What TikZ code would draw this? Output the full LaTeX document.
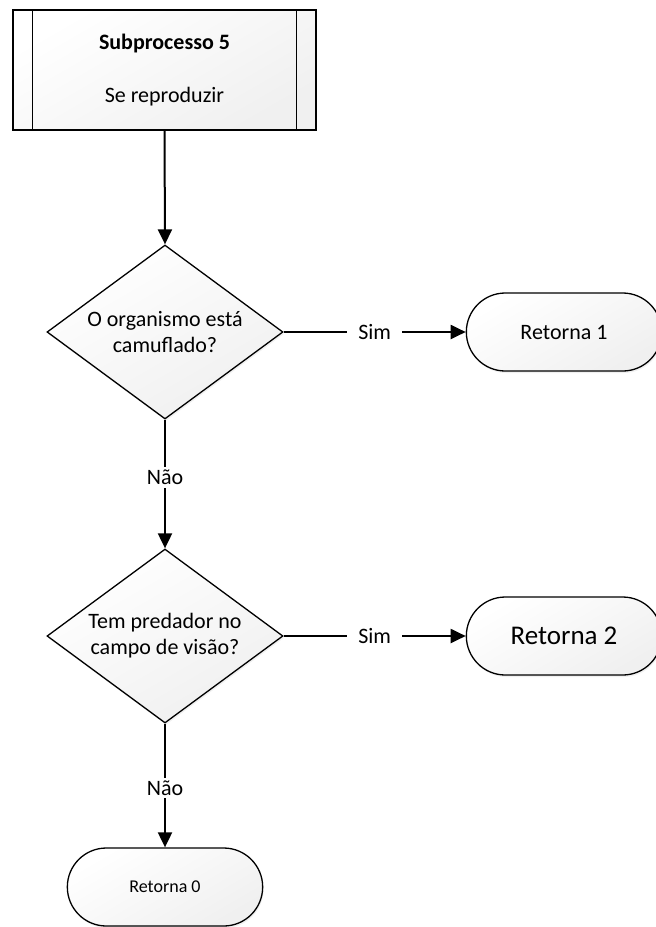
\documentclass[tikz,border=0pt]{standalone}
\usepackage{fontspec}
\setmainfont{Carlito}
\usetikzlibrary{shapes.geometric,shapes.misc,arrows.meta,shadows}
\tikzstyle{blk}=[draw=black,line width=1.3pt,top color=white,bottom color=black!6,shading angle=30]
\tikzstyle{sub}=[blk,rectangle,minimum width=303pt,minimum height=120pt,align=center,font=\fontsize{22}{26}\selectfont]
\tikzstyle{dec}=[blk,diamond,aspect=1.356,inner sep=0pt,minimum width=236pt,minimum height=174pt,align=center,font=\fontsize{22}{26}\selectfont,drop shadow={opacity=.12,shadow xshift=1pt,shadow yshift=-2pt}]
\tikzstyle{term}=[blk,rounded rectangle,minimum width=202pt,minimum height=78pt,drop shadow={opacity=.12,shadow xshift=1pt,shadow yshift=-2pt}]
\tikzstyle{ln}=[line width=2pt,-{Triangle[length=15pt,width=14pt]}]
\tikzstyle{lbl}=[fill=white,inner xsep=11pt,inner ysep=3pt,font=\fontsize{22}{26}\selectfont]

\begin{document}
\begin{tikzpicture}[x=1pt,y=-1pt]
\useasboundingbox (0,0) rectangle (656,927);
\node[sub] (sp) at (164.5,70) {\textbf{Subprocesso 5}\\[27pt]Se reproduzir};
\draw[line width=1.3pt] ([xshift=20pt]sp.north west) -- ([xshift=20pt]sp.south west);
\draw[line width=1.3pt] ([xshift=-20pt]sp.north east) -- ([xshift=-20pt]sp.south east);
\node[dec] (camuf) at (165,332) {O organismo está\\camuflado?};
\node[dec] (pred) at (165,636) {Tem predador no\\campo de visão?};
\node[term,font=\fontsize{22}{26}\selectfont] (ret1) at (564,332) {Retorna 1};
\node[term,font=\fontsize{27}{32}\selectfont] (ret2) at (564,636) {Retorna 2};
\node[term,font=\fontsize{18}{22}\selectfont] (ret0) at (165,887) {Retorna 0};
\draw[ln] (sp.south) -- (camuf.north);
\draw[ln] (camuf.east) -- node[lbl]{Sim} (ret1.west);
\draw[ln] (camuf.south) -- node[lbl,pos=.45]{Não} (pred.north);
\draw[ln] (pred.east) -- node[lbl]{Sim} (ret2.west);
\draw[ln] (pred.south) -- node[lbl,pos=.52]{Não} (ret0.north);
\end{tikzpicture}
\end{document}
